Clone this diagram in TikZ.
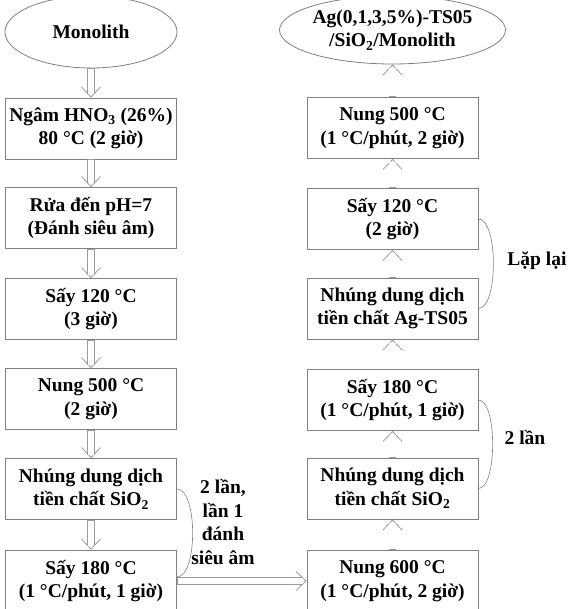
\documentclass[tikz,border=0pt]{standalone}
\usepackage{fontspec}
\setmainfont{Liberation Serif}
\usetikzlibrary{shapes.geometric,arrows.meta,decorations.markings,calc}
\definecolor{framegray}{RGB}{128,128,128}
\definecolor{arrowgray}{RGB}{155,155,155}
% open head, then a hollow shaft, from node to node
\newcommand{\flowlink}[2]{%
    \path[flowhead] (#1) -- (#2);
    \draw[flowouter] (#1) -- ($(#2)!3.6pt!(#1)$);
    \draw[flowinner] ($(#1)!0.6pt!(#2)$) -- ($(#2)!3.6pt!(#1)$);}

\begin{document}
\begin{tikzpicture}[x=1pt,y=-1pt,
    font=\fontsize{19.5}{23.5}\selectfont\bfseries,
    stepbox/.style={draw=framegray, line width=0.8pt, rectangle, align=center,
        minimum width=171pt, minimum height=61pt, inner sep=0pt},
    endbox/.style={draw=framegray, line width=0.8pt, ellipse, align=center, inner sep=0pt},
    flowouter/.style={draw=arrowgray, line width=7.8pt},
    flowinner/.style={draw=white, line width=6.2pt},
    flowhead/.style={postaction=decorate, decoration={markings, mark=at position 1 with
        {\arrow[arrowgray, line width=0.8pt]{Straight Barb[length=10pt, width=19pt]}}}},
    loopline/.style={draw=framegray, line width=0.6pt}]
    \clip (0,0) rectangle (568,609);

    % Left column
    \node[endbox, minimum width=172pt, minimum height=72pt] (mono) at (91,32) {Monolith};
    \node[stepbox] (b1) at (91,128.5) {Ngâm HNO\textsubscript{3} (26\%)\\80 °C (2 giờ)};
    \node[stepbox] (b2) at (91,218) {Rửa đến pH=7\\(Đánh siêu âm)};
    \node[stepbox] (b3) at (91,309) {Sấy 120 °C\\(3 giờ)};
    \node[stepbox] (b4) at (91,399) {Nung 500 °C\\(2 giờ)};
    \node[stepbox] (b5) at (91,489) {Nhúng dung dịch\\tiền chất SiO\textsubscript{2}};
    \node[stepbox, minimum height=62pt] (b6) at (91,581) {Sấy 180 °C\\(1 °C/phút, 1 giờ)};

    % Right column
    \node[endbox, minimum width=191pt, minimum height=68pt] (prod) at (392.5,30) {Ag(0,1,3,5\%)-TS05\\/SiO\textsubscript{2}/Monolith};
    \node[stepbox] (r1) at (392.5,128) {Nung 500 °C\\(1 °C/phút, 2 giờ)};
    \node[stepbox] (r2) at (392.5,219) {Sấy 120 °C\\(2 giờ)};
    \node[stepbox] (r3) at (392.5,308.5) {Nhúng dung dịch\\tiền chất Ag-TS05};
    \node[stepbox] (r4) at (392.5,400) {Sấy 180 °C\\(1 °C/phút, 1 giờ)};
    \node[stepbox] (r5) at (392.5,488.5) {Nhúng dung dịch\\tiền chất SiO\textsubscript{2}};
    \node[stepbox, minimum height=62pt] (r6) at (392.5,581) {Nung 600 °C\\(1 °C/phút, 2 giờ)};

    % Arrows
    \flowlink{mono.south}{b1.north}
    \flowlink{b1.south}{b2.north}
    \flowlink{b2.south}{b3.north}
    \flowlink{b3.south}{b4.north}
    \flowlink{b4.south}{b5.north}
    \flowlink{b5.south}{b6.north}
    \flowlink{b6.east}{r6.west}
    \flowlink{r6.north}{r5.south}
    \flowlink{r5.north}{r4.south}
    \flowlink{r4.north}{r3.south}
    \flowlink{r3.north}{r2.south}
    \flowlink{r2.north}{r1.south}
    \flowlink{r1.north}{prod.south}

    % Repeat loops
    \draw[loopline] (b5.east) .. controls +(21,0) and +(21,0) .. ([yshift=4pt]b6.east);
    \draw[loopline] (r2.east) .. controls +(20,0) and +(20,0) .. (r3.east);
    \draw[loopline] (r4.east) .. controls +(19,0) and +(19,0) .. (r5.east);

    % Loop labels
    \node[align=center] (lbone) at (223,522) {2 lần,\\lần 1\\đánh\\siêu âm};
    \node (lbtwo) at (537,261) {Lặp lại};
    \node (lbthree) at (525,437) {2 lần};
\end{tikzpicture}
\end{document}
